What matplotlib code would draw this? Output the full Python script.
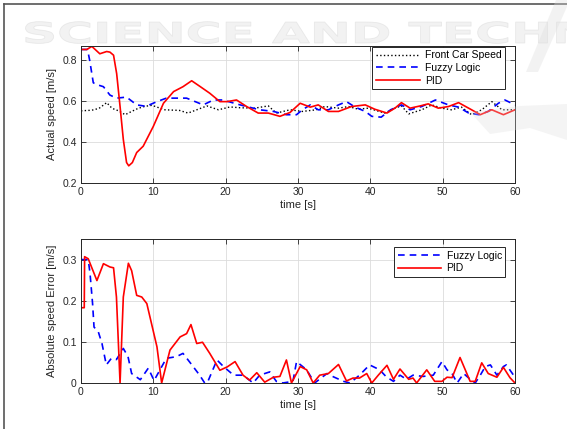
import matplotlib
matplotlib.use("Agg")
import matplotlib.pyplot as plt
from matplotlib.lines import Line2D
from matplotlib.patches import PathPatch, Polygon
from matplotlib.textpath import TextPath
from matplotlib.font_manager import FontProperties
from matplotlib.transforms import Affine2D

plt.rcParams['font.family'] = ['Liberation Sans', 'DejaVu Sans']

# speed of the front car and of the following car under both controllers [m/s]
front_t = [0, 1.5, 2.5, 3.55, 4.3, 5.2, 6.1, 7.0, 7.9, 8.85,
           9.8, 10.6, 11.6, 13.6, 14.8, 16.0, 17.4, 19.0, 20.6, 22.0,
           24.0, 25.9, 27.0, 28.9, 30.6, 32.5, 33.7, 35.6, 37.0, 38.3,
           39.7, 42.0, 43.4, 44.3, 45.3, 47.1, 48.5, 49.9, 51.2, 52.6,
           54.0, 55.4, 56.8, 58.2, 60]
front_v = [0.553, 0.556, 0.565, 0.593, 0.565, 0.553, 0.534, 0.55, 0.565, 0.575,
           0.58, 0.57, 0.558, 0.555, 0.542, 0.558, 0.577, 0.558, 0.572, 0.568,
           0.566, 0.577, 0.542, 0.558, 0.55, 0.558, 0.574, 0.566, 0.574, 0.561,
           0.566, 0.542, 0.566, 0.577, 0.538, 0.558, 0.582, 0.566, 0.558, 0.571,
           0.534, 0.558, 0.598, 0.558, 0.558]

fuzzy_t = [0, 0.9, 1.2, 1.7, 2.3, 3.1, 4.0, 4.9, 6.3, 7.7,
           9.0, 10.5, 11.8, 14.6, 16.9, 18.3, 19.6, 22.0, 24.7, 26.6,
           28.4, 29.8, 30.6, 31.7, 32.8, 34.2, 35.6, 36.7, 37.9, 39.3,
           40.2, 41.5, 42.8, 44.3, 45.5, 47.1, 49.0, 50.8, 52.2, 53.6,
           55.0, 56.3, 57.7, 58.6, 60]
fuzzy_v = [0.853, 0.853, 0.80, 0.69, 0.68, 0.671, 0.63, 0.615, 0.62, 0.582,
           0.575, 0.598, 0.615, 0.615, 0.582, 0.606, 0.606, 0.582, 0.558, 0.55,
           0.534, 0.534, 0.558, 0.582, 0.558, 0.558, 0.582, 0.598, 0.571, 0.55,
           0.526, 0.522, 0.558, 0.582, 0.558, 0.574, 0.606, 0.582, 0.571, 0.542,
           0.534, 0.55, 0.59, 0.606, 0.582]

pid_t = [0, 0.8, 1.5, 2.6, 3.55, 4.0, 4.5, 4.93, 5.4, 5.85,
         6.3, 6.6, 7.1, 7.7, 8.6, 10.0, 11.4, 12.8, 14.1, 15.3,
         16.5, 17.8, 19.2, 20.2, 21.5, 22.9, 24.5, 25.9, 27.5, 28.9,
         30.3, 31.7, 32.8, 34.2, 35.6, 37.4, 39.3, 40.6, 42.3, 43.4,
         44.3, 45.5, 46.9, 48.0, 49.4, 50.8, 52.2, 54.0, 55.2, 56.8,
         58.4, 60]
pid_v = [0.853, 0.853, 0.868, 0.832, 0.843, 0.84, 0.825, 0.735, 0.574, 0.413,
         0.30, 0.284, 0.30, 0.349, 0.38, 0.477, 0.59, 0.647, 0.671, 0.70,
         0.671, 0.639, 0.598, 0.598, 0.606, 0.574, 0.542, 0.542, 0.526, 0.545,
         0.59, 0.571, 0.582, 0.55, 0.55, 0.574, 0.582, 0.561, 0.542, 0.566,
         0.593, 0.566, 0.577, 0.587, 0.566, 0.574, 0.593, 0.558, 0.534, 0.558,
         0.534, 0.558]

# absolute speed error [m/s]
fuzzy_err_t = [0, 1.0, 1.25, 1.6, 1.8, 2.4, 2.9, 3.5, 4.2, 4.9,
               5.85, 6.5, 7.0, 8.2, 9.3, 10.1, 11.8, 13.2, 14.1, 15.5,
               16.4, 17.1, 17.5, 18.8, 19.7, 21.1, 22.4, 23.8, 24.7, 26.1,
               27.0, 27.9, 29.3, 29.8, 31.2, 32.3, 34.0, 34.9, 36.3, 37.2,
               38.5, 39.9, 41.3, 42.2, 43.2, 44.1, 45.0, 45.9, 47.3, 48.7,
               49.9, 50.6, 51.3, 52.0, 52.9, 53.8, 54.5, 55.2, 55.9, 56.6,
               57.5, 58.4, 58.8, 59.8, 60]
fuzzy_err_v = [0.30, 0.30, 0.266, 0.193, 0.136, 0.124, 0.096, 0.044, 0.06, 0.057,
               0.084, 0.064, 0.023, 0.008, 0.036, 0.006, 0.06, 0.064, 0.072, 0.04,
               0.019, 0.0, 0.002, 0.056, 0.04, 0.019, 0.019, 0.0, 0.019, 0.027,
               0.004, 0.0, 0.004, 0.052, 0.032, 0.0, 0.023, 0.015, 0.004, 0.0,
               0.019, 0.044, 0.032, 0.015, 0.004, 0.019, 0.009, 0.019, 0.016, 0.019,
               0.052, 0.032, 0.023, 0.0, 0.023, 0.009, 0.0, 0.019, 0.04, 0.044,
               0.019, 0.04, 0.044, 0.019, 0.019]

pid_err_t = [0, 0.45, 0.5, 1.0, 2.2, 3.1, 4.0, 4.5, 4.9, 5.4,
             5.85, 6.55, 7.0, 7.7, 8.4, 9.1, 10.5, 11.15, 12.3, 13.7,
             14.6, 15.2, 16.0, 16.8, 17.8, 19.2, 20.2, 21.3, 22.4, 23.3,
             24.3, 25.4, 26.6, 27.5, 28.4, 29.1, 30.3, 31.2, 32.1, 33.0,
             34.2, 35.6, 36.7, 37.6, 38.5, 39.5, 40.2, 41.1, 42.3, 43.2,
             44.1, 45.3, 45.9, 46.4, 47.8, 48.9, 49.9, 50.6, 51.3, 52.4,
             53.8, 54.5, 55.4, 56.3, 57.5, 58.4, 59.3, 60]
pid_err_v = [0.183, 0.183, 0.307, 0.302, 0.249, 0.29, 0.282, 0.28, 0.209, 0.0,
             0.209, 0.291, 0.273, 0.213, 0.209, 0.193, 0.088, 0.0, 0.08, 0.112,
             0.12, 0.142, 0.096, 0.099, 0.072, 0.031, 0.039, 0.052, 0.019, 0.007,
             0.025, 0.002, 0.014, 0.016, 0.056, 0.0, 0.04, 0.032, 0.0, 0.019,
             0.023, 0.045, 0.005, 0.012, 0.012, 0.023, 0.0, 0.019, 0.043, 0.009,
             0.034, 0.009, 0.012, 0.0, 0.032, 0.004, 0.004, 0.014, 0.013, 0.062,
             0.004, 0.004, 0.049, 0.023, 0.014, 0.038, 0.013, 0.0]

W, H = 567, 429
fig = plt.figure(figsize=(W / 100, H / 100), dpi=100)
ax1 = fig.add_axes([81 / W, 1 - 183 / H, 434 / W, 137 / H])
ax2 = fig.add_axes([81 / W, 1 - 383 / H, 434 / W, 144 / H])

dark = '#262626'
fs = 7.5


def style(ax):
    ax.grid(True, color='#dcdcdc', lw=0.6)
    ax.set_axisbelow(True)
    ax.tick_params(direction='in', top=True, right=True, length=3.5,
                   width=0.6, colors=dark, labelsize=fs, pad=3)
    for s in ax.spines.values():
        s.set_color(dark)
        s.set_linewidth(0.7)
    ax.set_xlim(0, 60)
    ax.set_xticks([0, 10, 20, 30, 40, 50, 60])
    ax.set_xlabel('time [s]', fontsize=8, color=dark, labelpad=2)


def legend(ax, top):
    leg = ax.legend(loc='upper right', bbox_to_anchor=(0.978, top), fontsize=fs,
                    fancybox=False, framealpha=1, edgecolor=dark, handlelength=4.2,
                    borderpad=0.35, labelspacing=0.25, handletextpad=0.5,
                    borderaxespad=0)
    leg.get_frame().set_linewidth(0.7)


ax1.plot(front_t, front_v, ':', color='black', lw=1.0, label='Front Car Speed')
ax1.plot(fuzzy_t, fuzzy_v, '--', color='blue', lw=1.2, dashes=(4, 3), label='Fuzzy Logic')
ax1.plot(pid_t, pid_v, '-', color='red', lw=1.2, label='PID')
style(ax1)
ax1.set_ylim(0.2, 0.87)
ax1.set_yticks([0.2, 0.4, 0.6, 0.8])
ax1.set_yticklabels(['0.2', '0.4', '0.6', '0.8'])
ax1.set_ylabel('Actual speed [m/s]', fontsize=8, color=dark, labelpad=4)
legend(ax1, 0.995)

ax2.plot(fuzzy_err_t, fuzzy_err_v, '--', color='blue', lw=1.2, dashes=(4, 3), label='Fuzzy Logic')
ax2.plot(pid_err_t, pid_err_v, '-', color='red', lw=1.2, label='PID')
style(ax2)
ax2.set_ylim(0, 0.35)
ax2.set_yticks([0, 0.1, 0.2, 0.3])
ax2.set_yticklabels(['0', '0.1', '0.2', '0.3'])
ax2.set_ylabel('Absolute speed Error [m/s]', fontsize=8, color=dark, labelpad=4)
legend(ax2, 0.945)

# page frame
fig.add_artist(Line2D([4 / W, 1], [1 - 4 / H, 1 - 4 / H], transform=fig.transFigure,
                      color='#555555', lw=1.2))
fig.add_artist(Line2D([4 / W, 4 / W], [0, 1 - 4 / H], transform=fig.transFigure,
                      color='#555555', lw=1.2))

# faint publisher watermark across the top (figure pixel coordinates)
tp = TextPath((0, 0), 'SCIENCE AND TECHN',
              prop=FontProperties(family='DejaVu Sans', weight='bold'), size=10)
ext = tp.get_extents()
sx = (585 - 22) / ext.width
sy = 21 / 7.3
wm = PathPatch(tp, transform=Affine2D().scale(sx, sy).translate(22, H - 43),
               facecolor='#e4e4e4', edgecolor='#d4d4d4', lw=0.6, alpha=0.45, zorder=10)
fig.add_artist(wm)
stroke = Polygon([(556, H), (570, H), (538, H - 72), (526, H - 72)],
                 closed=True, transform=Affine2D(), facecolor='#dcdcdc',
                 edgecolor='none', alpha=0.35, zorder=10)
fig.add_artist(stroke)
swoosh = Polygon([(470, H - 112), (520, H - 106), (567, H - 104), (567, H - 140),
                  (530, H - 128), (490, H - 134)],
                 closed=True, transform=Affine2D(), facecolor='#dcdcdc',
                 edgecolor='none', alpha=0.3, zorder=10)
fig.add_artist(swoosh)

fig.savefig('out.png', dpi=100)
